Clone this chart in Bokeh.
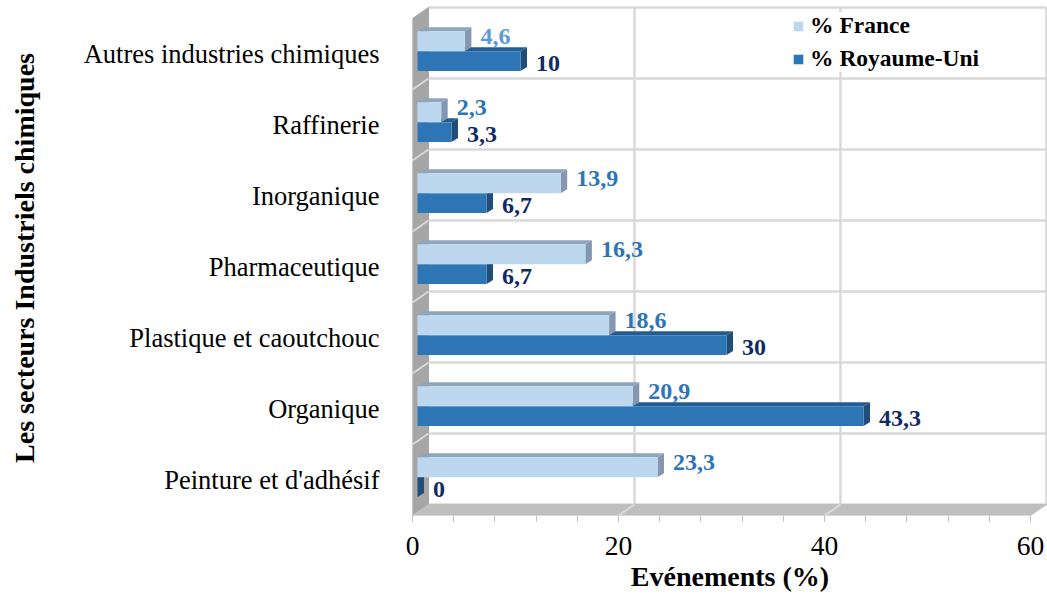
from bokeh.plotting import figure
from bokeh.models import FixedTicker, Legend, LegendItem, Range1d
from bokeh.core.properties import value
from bokeh.embed import file_html
from bokeh.resources import INLINE

# ---------------- data ----------------
categories = ["Peinture et d'adhésif", "Organique", "Plastique et caoutchouc",
              "Pharmaceutique", "Inorganique", "Raffinerie",
              "Autres industries chimiques"]
france = [23.3, 20.9, 18.6, 16.3, 13.9, 2.3, 4.6]
uk = [0, 43.3, 30, 6.7, 6.7, 3.3, 10]
x_ticks = [0, 20, 40, 60]
x_minor_ticks = list(range(0, 61, 4))
series_names = ["% France", "% Royaume-Uni"]


def fmt(v):
    return f"{v:g}".replace(".", ",")


# ---------------- styling / geometry ----------------
FONT = "Liberation Serif"
W, H = 1047, 603
LEFT, BOTTOM = 412, 88
FRAME_W, FRAME_H = W - LEFT, H - BOTTOM
PX_X = 10.3                # px per x unit
PX_Y = 71.0                # px per y unit
Y_END = FRAME_H / PX_Y
DX, DY = 16 / PX_X, 11 / PX_Y      # wall depth
BX = 5 / PX_X                       # bar plane shift
BDX, BDY = 6.5 / PX_X, 4 / PX_Y     # bar depth
n = len(categories)
xmax = x_ticks[-1]

p = figure(width=W, height=H, x_range=Range1d(0, FRAME_W / PX_X),
           y_range=Range1d(0, Y_END), output_backend="svg",
           toolbar_location=None, min_border_left=LEFT, min_border_right=0,
           min_border_top=0, min_border_bottom=BOTTOM)
p.outline_line_color = None
p.xgrid.visible = False
p.ygrid.visible = False
p.background_fill_color = "white"
p.border_fill_color = "white"

GRID = "#D9D9D9"

# back wall gridlines
p.segment(x0=[DX] * (n + 1), y0=[k + DY for k in range(n + 1)],
          x1=[xmax + DX] * (n + 1), y1=[k + DY for k in range(n + 1)],
          line_color=GRID, line_width=2.5)
p.segment(x0=[t + DX for t in x_ticks[1:]], y0=[DY] * (len(x_ticks) - 1),
          x1=[t + DX for t in x_ticks[1:]], y1=[n + DY] * (len(x_ticks) - 1),
          line_color=GRID, line_width=2.5)

# left wall
p.patch(x=[0, DX, DX, 0], y=[0, DY, n + DY, n], fill_color="#A6A6A6",
        line_color="#A6A6A6")
p.segment(x0=[0] * (n - 1), y0=list(range(1, n)), x1=[DX] * (n - 1),
          y1=[k + DY for k in range(1, n)], line_color=GRID, line_width=2)
# floor
p.patch(x=[0, xmax, xmax + DX, DX], y=[0, 0, DY, DY], fill_color="#BFBFBF",
        line_color="#BFBFBF")
p.segment(x0=x_ticks[1:-1], y0=[0] * (len(x_ticks) - 2),
          x1=[t + DX for t in x_ticks[1:-1]], y1=[DY] * (len(x_ticks) - 2),
          line_color=GRID, line_width=2)


def bars(vals, lo, hi, c_front, c_top, c_side):
    cs = [i + 0.5 for i in range(n)]
    bots = [c + lo for c in cs]
    tops = [c + hi for c in cs]
    ends = [BX + v for v in vals]
    p.patches(xs=[[e, e + BDX, e + BDX, e] for e in ends],
              ys=[[b, b + BDY, t + BDY, t] for b, t in zip(bots, tops)],
              fill_color=c_side, line_color=None)
    p.patches(xs=[[BX, e, e + BDX, BX + BDX] for e in ends],
              ys=[[t, t, t + BDY, t + BDY] for t in tops],
              fill_color=c_top, line_color=None)
    r = p.quad(left=[BX] * n, right=ends, bottom=bots, top=tops,
               fill_color=c_front, line_color=None)
    return r, ends, [(b + t) / 2 for b, t in zip(bots, tops)]


r_uk, uk_ends, uk_c = bars(uk, -0.24, 0.04, "#2E75B6", "#245C8F", "#1F4E79")
r_fr, fr_ends, fr_c = bars(france, 0.04, 0.32, "#BDD7EE", "#8FA5BA", "#8497B0")

fr_label_colors = ["#2E75B6"] * (n - 1) + ["#5B9BD5"]
p.text(x=[e + BDX for e in fr_ends], y=fr_c, text=[fmt(v) for v in france],
       x_offset=9, y_offset=-5, text_align="left", text_baseline="middle",
       text_color=fr_label_colors, text_font=value(FONT),
       text_font_style="bold", text_font_size="24px")
p.text(x=[e + BDX for e in uk_ends], y=uk_c, text=[fmt(v) for v in uk],
       x_offset=9, y_offset=2, text_align="left", text_baseline="middle",
       text_color="#102B63", text_font=value(FONT),
       text_font_style="bold", text_font_size="24px")

# axes
xa = p.xaxis[0]
xa.ticker = FixedTicker(ticks=x_ticks, minor_ticks=x_minor_ticks)
xa.axis_line_color = None
xa.major_tick_in = 0
xa.major_tick_out = 6
xa.minor_tick_in = 0
xa.minor_tick_out = 6
xa.major_tick_line_color = "#BFBFBF"
xa.minor_tick_line_color = "#BFBFBF"
xa.major_label_text_font = FONT
xa.major_label_text_font_size = "27.5px"
xa.major_label_text_color = "#000000"
xa.major_label_standoff = 15
xa.axis_label = "Evénements (%)"
xa.axis_label_text_font = FONT
xa.axis_label_text_font_style = "bold"
xa.axis_label_text_font_size = "28px"
xa.axis_label_text_color = "#000000"
xa.axis_label_standoff = 3

ya = p.yaxis[0]
ya.ticker = FixedTicker(ticks=[i + 0.5 for i in range(n)], minor_ticks=[])
ya.major_label_overrides = {i + 0.5: categories[i] for i in range(n)}
ya.axis_line_color = None
ya.major_tick_line_color = None
ya.minor_tick_line_color = None
ya.major_label_text_font = FONT
ya.major_label_text_font_size = "26.5px"
ya.major_label_text_color = "#000000"
ya.major_label_standoff = 27
ya.axis_label = "Les secteurs Industriels chimiques"
ya.axis_label_text_font = FONT
ya.axis_label_text_font_style = "bold"
ya.axis_label_text_font_size = "28px"
ya.axis_label_text_color = "#000000"
ya.axis_label_standoff = 41

legend = Legend(items=[LegendItem(label=series_names[0], renderers=[r_fr]),
                       LegendItem(label=series_names[1], renderers=[r_uk])],
                location=(380, 443))
legend.label_text_font = FONT
legend.label_text_font_style = "bold"
legend.label_text_font_size = "23.5px"
legend.label_text_color = "#000000"
legend.glyph_width = 12
legend.glyph_height = 12
legend.label_height = 26
legend.label_standoff = 6
legend.spacing = 6
legend.padding = 4
legend.margin = 0
legend.border_line_color = None
legend.background_fill_color = "white"
legend.background_fill_alpha = 1.0
p.add_layout(legend)

open("out.html", "w").write(file_html(p, INLINE))
